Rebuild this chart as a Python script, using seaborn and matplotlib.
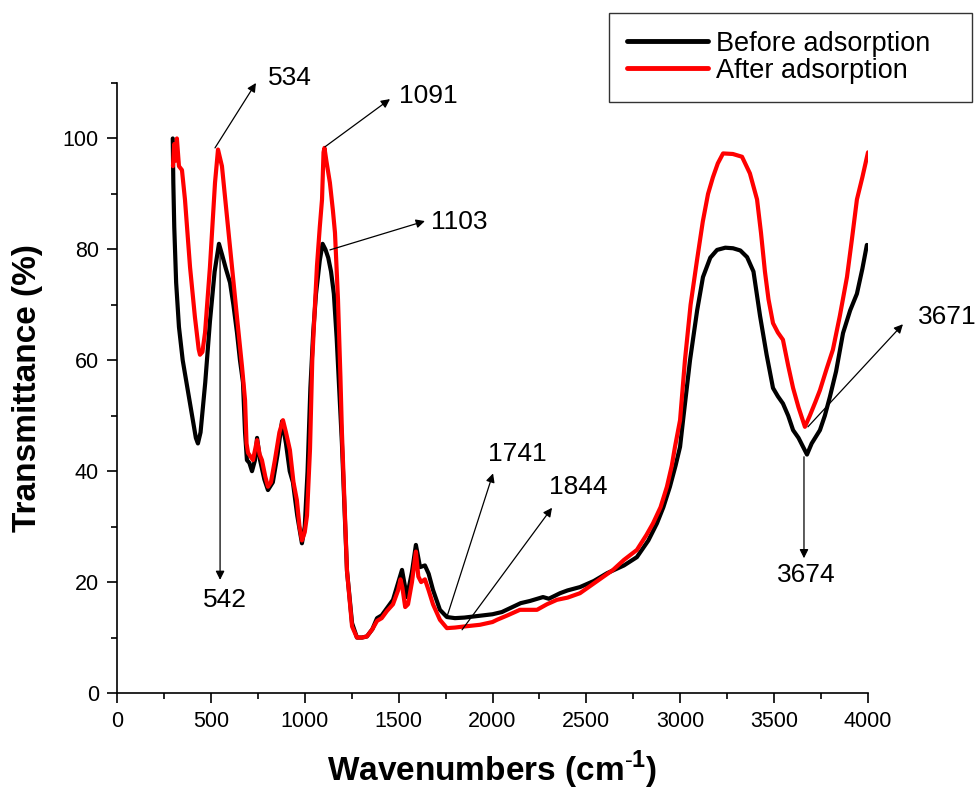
import matplotlib
matplotlib.use("Agg")
import matplotlib.pyplot as plt
import seaborn as sns
from matplotlib.ticker import MultipleLocator
from matplotlib.lines import Line2D

# === data ===
before_x = [297, 300, 305, 315, 330, 350, 375, 400, 420, 431, 445, 470, 495, 520, 543,
            560, 580, 602, 620, 639, 655, 671, 682, 692, 705, 719, 735, 746, 762, 785,
            804, 830, 855, 879, 900, 920, 937, 960, 985, 1000, 1015, 1030, 1045, 1060,
            1080, 1095, 1110, 1125, 1140, 1155, 1170, 1185, 1198, 1225, 1252, 1278,
            1305, 1331, 1360, 1385, 1410, 1438, 1470, 1497, 1518, 1544, 1571, 1592,
            1614, 1640, 1660, 1683, 1720, 1757, 1800, 1850, 1900, 1950, 2000, 2050,
            2100, 2150, 2200, 2269, 2300, 2360, 2400, 2466, 2540, 2610, 2700, 2769,
            2830, 2876, 2910, 2945, 2975, 2999, 3015, 3052, 3090, 3121, 3160, 3196,
            3240, 3281, 3320, 3356, 3390, 3425, 3460, 3494, 3520, 3547, 3575, 3601,
            3630, 3660, 3675, 3700, 3744, 3770, 3797, 3830, 3867, 3905, 3941, 3970, 3994]
before_y = [100, 92, 84, 74, 66, 60, 55, 50, 46, 45, 47, 56, 67, 76, 81,
            79, 76.5, 74, 70, 65, 60, 56, 47, 42, 41.5, 40, 42, 46, 42, 38.5,
            36.6, 38, 43, 49, 45, 40, 38, 32, 27, 30, 40, 55, 65, 72,
            78, 81, 80, 78.5, 76, 72, 64, 54, 45, 22, 12.6, 10,
            10, 10.2, 11.5, 13.5, 14, 15.3, 16.8, 19.8, 22.2, 17.3, 21.8, 26.7,
            22.7, 23, 21.5, 18.6, 15, 13.7, 13.5, 13.6, 13.8, 14, 14.2, 14.6,
            15.4, 16.2, 16.6, 17.3, 17, 18, 18.5, 19.1, 20.2, 21.6, 23, 24.5,
            27.5, 30.6, 33.5, 37.2, 41, 44.4, 49.2, 60, 69, 75, 78.5, 79.9,
            80.3, 80.2, 79.8, 78.6, 76, 68, 61, 55, 53.5, 52.2, 50, 47.4,
            46, 44, 43, 45, 47.4, 50, 53.4, 58, 64.9, 69, 72, 76.5, 80.8]

after_x = [298, 305, 312, 319, 330, 346, 362, 389, 415, 435, 442, 455, 469, 495, 522,
           538, 559, 586, 612, 639, 666, 682, 690, 698, 724, 746, 760, 772, 790, 804,
           820, 841, 865, 884, 900, 921, 940, 958, 972, 985, 1000, 1012, 1028, 1040,
           1050, 1065, 1080, 1092, 1100, 1105, 1115, 1134, 1150, 1161, 1177, 1190,
           1198, 1225, 1252, 1278, 1305, 1331, 1360, 1385, 1410, 1438, 1470, 1497,
           1510, 1520, 1535, 1550, 1571, 1592, 1605, 1620, 1640, 1660, 1683, 1720,
           1757, 1800, 1850, 1933, 2000, 2024, 2080, 2146, 2237, 2290, 2343, 2400,
           2466, 2550, 2642, 2700, 2769, 2820, 2855, 2895, 2929, 2955, 2972, 2999,
           3025, 3055, 3089, 3120, 3148, 3174, 3200, 3228, 3280, 3329, 3371, 3409,
           3430, 3451, 3470, 3494, 3520, 3547, 3575, 3601, 3630, 3664, 3690, 3720,
           3744, 3780, 3813, 3850, 3888, 3915, 3941, 3970, 4000]
after_y = [95, 99, 96, 100, 95, 94.3, 89, 76.8, 67.8, 62, 61, 61.5, 65, 76.8, 92,
           98, 95, 85.8, 76.8, 67.8, 58.8, 52.8, 45, 43.3, 42, 45.6, 43, 42, 39, 37.2,
           38, 42, 47, 49.2, 47, 43.8, 38, 34.8, 30, 27.5, 29, 32, 44, 60,
           67, 77, 84, 89, 97.5, 98.3, 96, 92, 87, 83, 71, 57,
           47, 22, 12, 10, 10, 10.2, 11.5, 13, 13.5, 14.8, 16, 18.5,
           20.5, 19, 15.5, 16, 20, 25.5, 21, 20, 20.5, 18.5, 16, 13.2,
           11.7, 11.8, 12, 12.3, 12.8, 13.2, 14, 15, 15, 16, 16.8, 17.2,
           18, 20, 22.2, 24, 25.8, 28.5, 30.6, 33.5, 37.2, 41, 44.4, 49.2,
           60, 70, 78, 85, 90, 93, 95.5, 97.3, 97.2, 96.7, 93.7, 89,
           83, 76, 71, 66.7, 65, 63.7, 59, 55, 51.5, 48, 50, 52.5,
           54.6, 58.5, 61.9, 68, 75, 82, 89, 93, 97.5]

# peak labels: text, arrow tail (x, y), arrow head (x, y), text position (x, y)
peak_labels = ["534", "542", "1091", "1103", "1741", "1844", "3671", "3674"]
arrow_tail = [(522, 98.3), (549, 79.3), (1108, 98.5), (1134, 79.9),
              (1757, 13.7), (1838, 11.4), (3680, 48.0), (3659, 42.6)]
arrow_head = [(740, 110.0), (549, 20.4), (1454, 107.1), (1640, 85.1),
              (2003, 39.6), (2317, 33.4), (4186, 66.5), (3659, 24.3)]
label_pos = [(921, 110.9), (575, 16.8), (1657, 107.7), (1822, 84.9),
             (2130, 43.1), (2455, 37.1), (4420, 67.8), (3670, 21.3)]

# === style ===
sns.set_style("ticks")
plt.rcParams["font.family"] = ["Liberation Sans", "DejaVu Sans"]
plt.rcParams["mathtext.fontset"] = "custom"
plt.rcParams["mathtext.rm"] = "Liberation Sans"
plt.rcParams["mathtext.bf"] = "Liberation Sans:bold"
plt.rcParams["text.color"] = "black"
plt.rcParams["axes.labelcolor"] = "black"

fig = plt.figure(figsize=(9.8, 7.92), dpi=100)
ax = fig.add_axes([117 / 980, 1 - 693 / 792, (868 - 117) / 980, (693 - 83) / 792])

sns.lineplot(x=before_x, y=before_y, color="black", lw=3, ax=ax, sort=False)
sns.lineplot(x=after_x, y=after_y, color="#ff0000", lw=3, ax=ax, sort=False)

ax.set_xlim(0, 4000)
ax.set_ylim(0, 110)
ax.xaxis.set_major_locator(MultipleLocator(500))
ax.xaxis.set_minor_locator(MultipleLocator(250))
ax.yaxis.set_major_locator(MultipleLocator(20))
ax.yaxis.set_minor_locator(MultipleLocator(10))
ax.tick_params(which="major", length=7, width=1.2, labelsize=15.5, pad=6, colors="black")
ax.tick_params(which="minor", length=4, width=1.2, colors="black")
sns.despine(ax=ax)
for s in ["left", "bottom"]:
    ax.spines[s].set_linewidth(1.2)
    ax.spines[s].set_color("black")

ax.set_xlabel(r"Wavenumbers (cm$^{\mathbf{\text{-}1}}$)", fontsize=24, fontweight="bold", labelpad=12)
ax.set_ylabel("Transmittance (%)", fontsize=24, fontweight="bold", labelpad=14)

for lab, tail, head, pos in zip(peak_labels, arrow_tail, arrow_head, label_pos):
    ax.annotate("", xy=head, xytext=tail, annotation_clip=False,
                arrowprops=dict(arrowstyle="-|>", color="black", lw=0.9,
                                mutation_scale=13, shrinkA=0, shrinkB=0))
    ax.text(pos[0], pos[1], lab, fontsize=19, ha="center", va="center",
            color="black", clip_on=False)

# legend box spans the reference frame from x=609 to x=972 px
handles = [Line2D([], [], color="black", lw=3.5), Line2D([], [], color="#ff0000", lw=3.5)]
leg = fig.legend(handles, ["Before adsorption", "After adsorption"],
                 loc="upper left", bbox_to_anchor=(609 / 980, 1 - 99 / 792, 363 / 980, 86 / 792),
                 mode="expand", borderaxespad=0, fontsize=19.5, frameon=True, fancybox=False,
                 edgecolor="black", handlelength=3.0, handletextpad=0.3,
                 labelspacing=0.05, borderpad=0.65)
leg.get_frame().set_linewidth(1.0)

fig.savefig("out.png", dpi=100)
